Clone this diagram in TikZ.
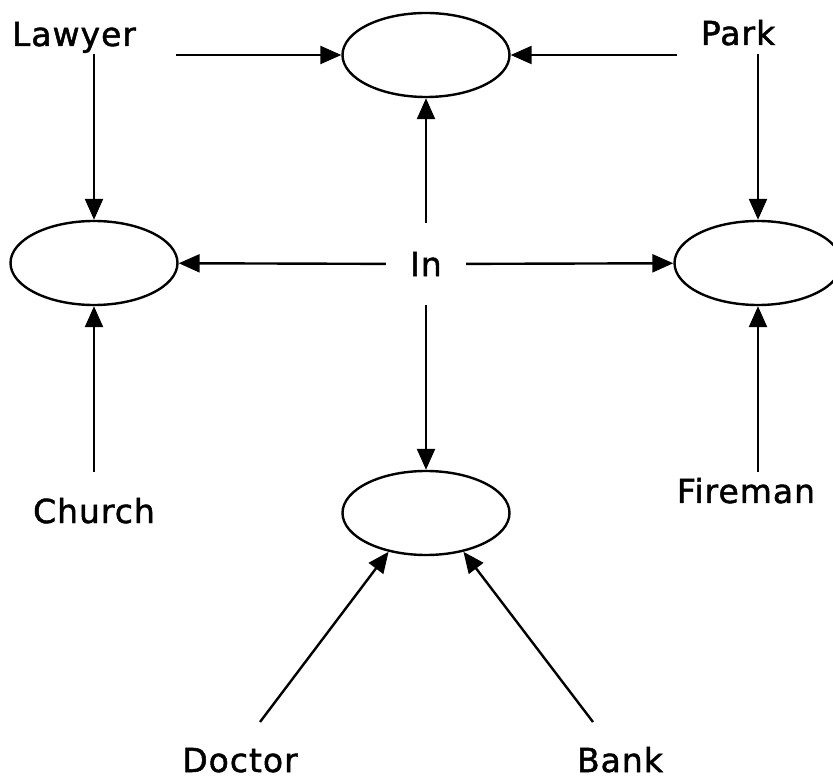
\documentclass[tikz,border=0pt]{standalone}
\usepackage{fontspec}
\setmainfont[LetterSpace=3,FakeBold=1.5]{DejaVu Sans}
\usetikzlibrary{shapes.geometric}
\usetikzlibrary{arrows.meta}

\begin{document}
\begin{tikzpicture}[x=1pt,y=-1pt,
  blob/.style={draw,ellipse,line width=2.4pt,minimum width=167pt,minimum height=84pt,inner sep=0pt},
  word/.style={font=\fontsize{33}{38}\selectfont,inner sep=0pt},
  link/.style={line width=2.4pt,-{Triangle[length=21pt,width=18pt]}}]
  % Boundary
  \clip (0,0) rectangle (833,783);
  % Slots
  \node[blob] (top) at (426,55) {};
  \node[blob] (left) at (94,263) {};
  \node[blob] (right) at (758,263) {};
  \node[blob] (bottom) at (426,513) {};
  % Words
  \node[word,anchor=base] (lawyer) at (74,46) {Lawyer};
  \node[word,anchor=base] (park) at (738,45) {Park};
  \node[word,anchor=base] (church) at (94,523) {Church};
  \node[word,anchor=base] (fireman) at (746,503) {Fireman};
  \node[word,anchor=base] (doctor) at (240,772) {Doctor};
  \node[word,anchor=base] (bank) at (620,772) {Bank};
  \node[word,minimum width=80pt,minimum height=82pt] (in) at (426,264) {In};
  % Tails
  \coordinate (lawyerR) at (176,55);
  \coordinate (lawyerD) at (94,54);
  \coordinate (parkL) at (677,55);
  \coordinate (parkD) at (758,54);
  \coordinate (churchU) at (94,472);
  \coordinate (firemanU) at (758,472);
  \coordinate (doctorU) at (260,722);
  \coordinate (bankU) at (593,722);
  % Links
  \draw[link] (lawyerR) -- (top);
  \draw[link] (parkL) -- (top);
  \draw[link] (in) -- (top);
  \draw[link] (lawyerD) -- (left);
  \draw[link] (in) -- (left);
  \draw[link] (churchU) -- (left);
  \draw[link] (parkD) -- (right);
  \draw[link] (in) -- (right);
  \draw[link] (firemanU) -- (right);
  \draw[link] (in) -- (bottom);
  \draw[link] (doctorU) -- (bottom.226);
  \draw[link] (bankU) -- (bottom.314);
\end{tikzpicture}
\end{document}
